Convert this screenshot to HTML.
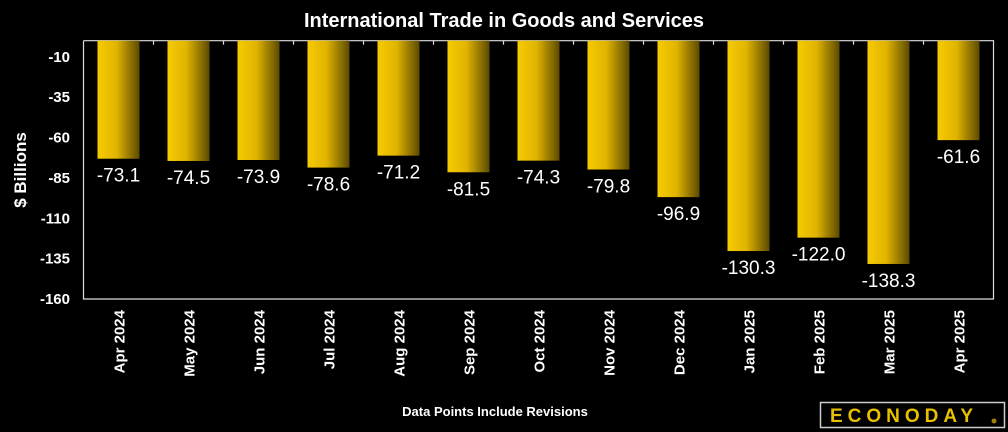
<!DOCTYPE html>
<html><head><meta charset="utf-8"><style>
body{margin:0;background:#000;width:1008px;height:432px;overflow:hidden}
svg{display:block;font-family:"Liberation Sans",sans-serif}
</style></head><body>
<svg id="chart" width="1008" height="432">
<defs><linearGradient id="bg" x1="0" x2="1" y1="0" y2="0">
<stop offset="0" stop-color="#f7cb00"/><stop offset="0.45" stop-color="#e0b400"/><stop offset="1" stop-color="#5c4a00"/></linearGradient></defs>
<text x="504" y="27" fill="#fff" font-size="20" font-weight="bold" text-anchor="middle">International Trade in Goods and Services</text>
<text transform="translate(26,170) rotate(-90)" fill="#fff" font-size="17" font-weight="bold" text-anchor="middle">$ Billions</text>
<text x="495" y="416" fill="#fff" font-size="13" font-weight="bold" text-anchor="middle">Data Points Include Revisions</text>
<g>
<rect x="820.5" y="402.5" width="184" height="25" fill="none" stroke="#ccc" stroke-width="1.5"/>
<text x="904" y="422" fill="#e8c000" font-size="19" font-weight="bold" text-anchor="middle" letter-spacing="5">ECONODAY</text>
<circle cx="994" cy="421" r="2.5" fill="#a08000"/>
</g>
<g id="axes"></g>
<g id="bars"></g>
</svg>
<script>
const categories=["Apr 2024","May 2024","Jun 2024","Jul 2024","Aug 2024","Sep 2024","Oct 2024","Nov 2024","Dec 2024","Jan 2025","Feb 2025","Mar 2025","Apr 2025"];
const values=[-73.1,-74.5,-73.9,-78.6,-71.2,-81.5,-74.3,-79.8,-96.9,-130.3,-122.0,-138.3,-61.6];
const yTicks=[-10,-35,-60,-85,-110,-135,-160];
const NS="http://www.w3.org/2000/svg";
const L=83.5,R=993.5,T=40.7,B=299,yMin=-160,yMax=0;
const band=(R-L)/categories.length;
function y(v){return T+(yMax-v)/(yMax-yMin)*(B-T);}
function xc(i){return L+band*(i+0.5);}
function mk(tag,attrs,parent){const e=document.createElementNS(NS,tag);for(const k in attrs)e.setAttribute(k,attrs[k]);parent.appendChild(e);return e;}
const ax=document.getElementById('axes'),bg=document.getElementById('bars');
const frame=mk('path',{d:`M${L},${T}V${B}H${R}V${T}H${L}`,fill:'none',stroke:'#ddd','stroke-width':1.2},ax);


yTicks.forEach(t=>{
 const tx=mk('text',{x:70,y:y(t)+5,fill:'#fff','font-size':15,'font-weight':'bold','text-anchor':'end'},ax);
 tx.textContent=t;
 
 
});
categories.forEach((c,i)=>{
 if(i>0){const tk=mk('line',{x1:L+band*i,x2:L+band*i,y1:T,y2:T+4,stroke:'#ddd','stroke-width':1.2},ax);
 
 }
 const cx=xc(i);
 const tl=mk('text',{transform:`translate(${cx+6},310) rotate(-90)`,fill:'#fff','font-size':15,'font-weight':'bold','text-anchor':'end'},ax);
 tl.textContent=c;
 
 
 const v=values[i];
 const r=mk('rect',{x:cx-21,y:T,width:42,height:y(v)-T,fill:'url(#bg)'},bg);
 
 
 const lb=mk('text',{x:cx,y:y(v)+23,fill:'#fff','font-size':19,'text-anchor':'middle'},bg);
 lb.textContent=v.toFixed(1);
 
 
});
</script>
</body></html>
